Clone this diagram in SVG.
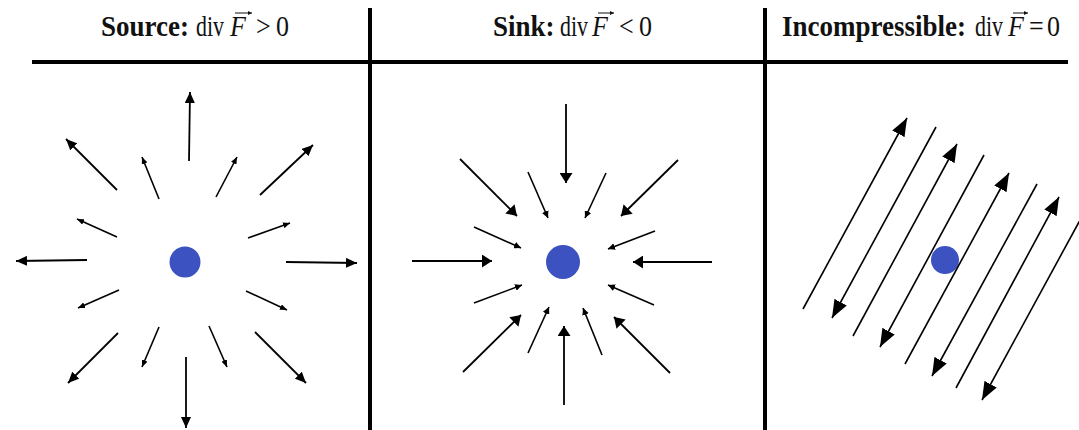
<svg xmlns="http://www.w3.org/2000/svg" width="1079" height="430" viewBox="0 0 1079 430">
<style>
.t{font-family:"Liberation Serif","Times New Roman",serif;font-size:26px;fill:#111}
.b{font-weight:bold;font-size:27px}
.i{font-style:italic}
.div{stroke:#000;stroke-width:4;fill:none}
.a1{stroke:#000;stroke-width:1.8;marker-end:url(#h1)}
.s1{stroke:#000;stroke-width:1.6;marker-end:url(#hs)}
.a2{stroke:#000;stroke-width:1.8;marker-end:url(#h2)}
.s2{stroke:#000;stroke-width:1.6;marker-end:url(#hs2)}
.a3{stroke:#000;stroke-width:1.6;marker-end:url(#h3)}
.vec{stroke:#111;stroke-width:1;marker-end:url(#hv)}
.dot{fill:#3c52c0}
</style>
<defs>
<marker id="h1" markerUnits="userSpaceOnUse" markerWidth="11" markerHeight="10" refX="11" refY="5" orient="auto"><path d="M0,0 L11,5 L0,10 z" fill="#000"/></marker>
<marker id="hs" markerUnits="userSpaceOnUse" markerWidth="7" markerHeight="6" refX="7" refY="3" orient="auto"><path d="M0,0 L7,3 L0,6 z" fill="#000"/></marker>
<marker id="h2" markerUnits="userSpaceOnUse" markerWidth="10" markerHeight="13" refX="10" refY="6.5" orient="auto"><path d="M0,0 L10,6.5 L0,13 z" fill="#000"/></marker>
<marker id="hs2" markerUnits="userSpaceOnUse" markerWidth="7" markerHeight="7" refX="7" refY="3.5" orient="auto"><path d="M0,0 L7,3.5 L0,7 z" fill="#000"/></marker>
<marker id="h3" markerUnits="userSpaceOnUse" markerWidth="18" markerHeight="14" refX="18" refY="7" orient="auto"><path d="M0,0 L18,7 L0,14 z" fill="#000"/></marker>
<marker id="hv" markerUnits="userSpaceOnUse" markerWidth="4" markerHeight="4" refX="4" refY="2" orient="auto"><path d="M0,0 L4,2 L0,4 z" fill="#111"/></marker>
</defs>
<rect width="1079" height="430" fill="#fff"/>
<g id="grid">
<line class="div" x1="32" y1="62" x2="1068" y2="62"/>
<line class="div" x1="370" y1="8" x2="370" y2="430"/>
<line class="div" x1="765" y1="8" x2="765" y2="430"/>
</g>
<g id="titles">
<g transform="scale(1,1.13)">
<text class="t b" x="101" y="32">Source:</text>
<text class="t" x="196" y="32" textLength="28" lengthAdjust="spacingAndGlyphs">div</text>
<text class="t i" x="230" y="32">F</text>
<text class="t" x="256" y="32">&gt;</text>
<text class="t" x="276" y="32">0</text>
<text class="t b" x="493" y="32">Sink:</text>
<text class="t" x="560" y="32" textLength="28" lengthAdjust="spacingAndGlyphs">div</text>
<text class="t i" x="592" y="32">F</text>
<text class="t" x="619" y="32">&lt;</text>
<text class="t" x="639" y="32">0</text>
<text class="t b" x="782" y="32">Incompressible:</text>
<text class="t" x="975" y="32" textLength="28" lengthAdjust="spacingAndGlyphs">div</text>
<text class="t i" x="1008" y="32">F</text>
<text class="t" x="1029" y="32">=</text>
<text class="t" x="1047" y="32">0</text>
</g>
<line class="vec" x1="235" y1="13" x2="252" y2="13"/>
<line class="vec" x1="598" y1="13" x2="614" y2="13"/>
<line class="vec" x1="1013" y1="13" x2="1028" y2="13"/>
</g>
<g id="source-node"><circle class="dot" cx="185" cy="262" r="15.5"/></g>
<g id="sink-node"><circle class="dot" cx="563" cy="262" r="17"/></g>
<g id="incompressible-node"><circle class="dot" cx="945" cy="260" r="14"/></g>
<g id="connectors">
<line class="a1" x1="189" y1="161" x2="190" y2="92"/>
<line class="a1" x1="117" y1="190" x2="66" y2="139"/>
<line class="a1" x1="260" y1="195" x2="313" y2="145"/>
<line class="a1" x1="286" y1="262" x2="357" y2="263"/>
<line class="a1" x1="255" y1="332" x2="306" y2="383"/>
<line class="a1" x1="186" y1="357" x2="186" y2="428"/>
<line class="a1" x1="118" y1="333" x2="68" y2="383"/>
<line class="a1" x1="87" y1="260" x2="16" y2="261"/>
<line class="s1" x1="159" y1="199" x2="142" y2="157"/>
<line class="s1" x1="216" y1="197" x2="237" y2="157"/>
<line class="s1" x1="248" y1="238" x2="290" y2="223"/>
<line class="s1" x1="246" y1="291" x2="287" y2="310"/>
<line class="s1" x1="209" y1="326" x2="227" y2="367"/>
<line class="s1" x1="159" y1="327" x2="142" y2="367"/>
<line class="s1" x1="119" y1="290" x2="78" y2="308"/>
<line class="s1" x1="117" y1="237" x2="77" y2="219"/>
<line class="a2" x1="566" y1="104" x2="566" y2="183"/>
<line class="a2" x1="460" y1="159" x2="517" y2="216"/>
<line class="a2" x1="678" y1="160" x2="621" y2="216"/>
<line class="a2" x1="712" y1="262" x2="633" y2="262"/>
<line class="a2" x1="670" y1="373" x2="614" y2="317"/>
<line class="a2" x1="564" y1="405" x2="564" y2="326"/>
<line class="a2" x1="463" y1="372" x2="521" y2="315"/>
<line class="a2" x1="412" y1="261" x2="492" y2="261"/>
<line class="s2" x1="528" y1="172" x2="548" y2="218"/>
<line class="s2" x1="606" y1="173" x2="585" y2="218"/>
<line class="s2" x1="655" y1="231" x2="608" y2="249"/>
<line class="s2" x1="654" y1="305" x2="608" y2="285"/>
<line class="s2" x1="602" y1="355" x2="583" y2="308"/>
<line class="s2" x1="528" y1="353" x2="549" y2="307"/>
<line class="s2" x1="474" y1="303" x2="522" y2="285"/>
<line class="s2" x1="474" y1="227" x2="521" y2="248"/>
<line class="a3" x1="803" y1="309" x2="907" y2="118"/>
<line class="a3" x1="936" y1="127" x2="832" y2="318"/>
<line class="a3" x1="853" y1="336" x2="957" y2="144"/>
<line class="a3" x1="984" y1="155" x2="880" y2="347"/>
<line class="a3" x1="905" y1="364" x2="1009" y2="173"/>
<line class="a3" x1="1037" y1="184" x2="932" y2="376"/>
<line class="a3" x1="956" y1="388" x2="1059" y2="197"/>
<line class="a3" x1="1085" y1="211" x2="982" y2="400"/>
</g>
</svg>
